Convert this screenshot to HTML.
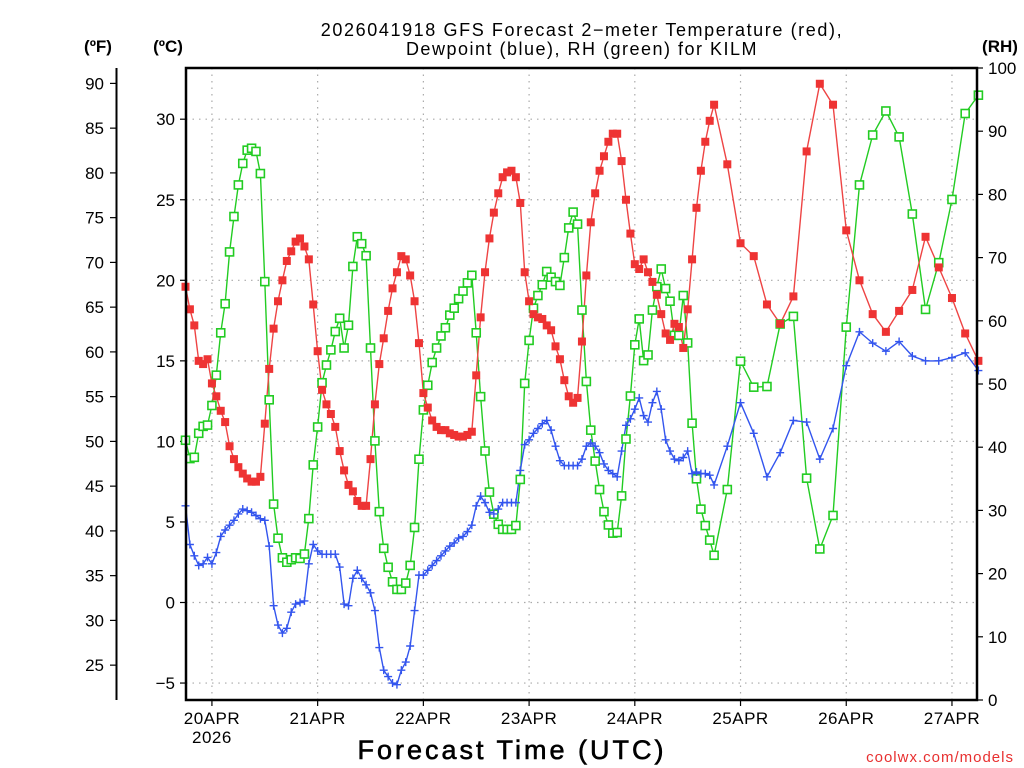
<!DOCTYPE html>
<html><head><meta charset="utf-8">
<style>
html,body{margin:0;padding:0;background:#fff;}
svg{display:block;font-family:"Liberation Sans","DejaVu Sans",sans-serif;}
</style></head>
<body>
<svg id="chart" width="1024" height="768" viewBox="0 0 1024 768" xmlns="http://www.w3.org/2000/svg">
<rect x="0" y="0" width="1024" height="768" fill="#fff"/>
<text x="582" y="36" font-size="18" text-anchor="middle" fill="#000" letter-spacing="1.6">2026041918 GFS Forecast 2−meter Temperature (red),</text>
<text x="582" y="55" font-size="18" text-anchor="middle" fill="#000" letter-spacing="1.5">Dewpoint (blue), RH (green) for KILM</text>
<text x="98" y="52" font-size="17" font-weight="bold" text-anchor="middle">(ºF)</text>
<text x="168" y="52" font-size="17" font-weight="bold" text-anchor="middle">(ºC)</text>
<text x="1000" y="52" font-size="17" font-weight="bold" text-anchor="middle">(RH)</text>
<text x="512" y="759" font-size="27" text-anchor="middle" letter-spacing="3" stroke="#000" stroke-width="0.6">Forecast Time (UTC)</text>
<text x="1014" y="762" font-size="15" text-anchor="end" fill="#e83030" letter-spacing="1">coolwx.com/models</text>
<g id="grid"></g>
<g id="axes"></g>
<g id="series"></g>
<rect x="186" y="68" width="791" height="632" fill="none" stroke="#000" stroke-width="2.5"/>
</svg>
<script>
// hourly h0..h120 (from 19APR 18Z), then 3-hourly h123..h180
const tempHourly=[19.6,18.2,17.2,15.0,14.8,15.1,13.6,12.8,11.9,11.2,9.7,8.9,8.4,8.0,7.7,7.5,7.5,7.8,11.1,14.5,17.0,18.7,20.0,21.2,21.8,22.4,22.6,22.1,21.3,18.5,15.6,13.2,12.3,11.7,10.9,9.4,8.2,7.3,6.9,6.3,6.0,6.0,8.9,12.3,14.8,16.4,18.1,19.5,20.5,21.5,21.3,20.3,18.7,16.1,13.0,12.1,11.3,10.9,10.7,10.7,10.5,10.4,10.3,10.3,10.4,10.6,14.1,17.7,20.5,22.6,24.2,25.4,26.4,26.7,26.8,26.4,24.8,20.5,18.7,17.9,17.7,17.6,17.2,16.9,15.9,15.1,13.8,12.8,12.4,12.7,16.2,20.3,23.6,25.4,26.8,27.7,28.6,29.1,29.1,27.4,25.0,22.9,21.0,20.7,21.3,20.5,19.9,19.1,17.9,16.7,16.3,17.3,17.1,15.8,18.2,21.3,24.5,26.8,28.6,29.9,30.9];
const temp3h=[27.2,22.3,21.5,18.5,17.3,19.0,28.0,32.2,30.9,23.1,20.0,17.9,16.8,18.1,19.4,22.7,20.8,18.9,16.7,15.0];
const dewHourly=[6.0,3.6,2.9,2.3,2.4,2.8,2.4,3.1,4.1,4.5,4.8,5.1,5.5,5.8,5.7,5.6,5.4,5.2,5.1,3.5,-0.2,-1.4,-1.9,-1.6,-0.6,-0.1,0.0,0.1,2.4,3.6,3.2,3.0,3.0,3.0,3.0,2.2,-0.1,-0.2,1.5,2.0,1.5,1.1,0.6,-0.5,-2.8,-4.2,-4.6,-5.0,-5.1,-4.2,-3.7,-2.7,-0.5,1.7,1.7,2.0,2.3,2.6,2.9,3.2,3.5,3.7,4.0,4.1,4.4,4.8,6.0,6.6,6.2,5.6,5.5,5.8,6.2,6.2,6.2,6.2,8.2,9.8,10.1,10.5,10.8,11.1,11.3,10.7,9.7,8.8,8.5,8.5,8.5,8.5,8.9,9.7,9.9,9.7,9.3,8.6,8.2,8.0,7.8,9.4,11.0,11.4,12.0,12.7,11.6,11.2,12.4,13.1,12.0,10.1,9.4,8.9,8.8,9.0,9.4,8.0,8.1,8.0,8.0,7.9,7.3];
const dew3h=[9.7,12.4,10.5,7.8,9.3,11.3,11.2,8.9,10.8,14.7,16.8,16.1,15.6,16.2,15.3,15.0,15.0,15.2,15.5,14.4];
const rhHourly=[41.1,38.2,38.4,42.2,43.3,43.5,46.6,51.4,58.1,62.7,70.9,76.5,81.5,84.9,87.0,87.3,86.8,83.3,66.2,47.5,31.0,25.6,22.5,21.8,22.2,22.5,22.4,23.1,28.7,37.2,43.2,50.2,53.0,55.4,58.3,60.4,55.7,59.3,68.6,73.3,72.2,70.3,55.7,41.0,29.8,24.0,21.0,18.7,17.5,17.5,18.5,21.3,27.3,38.1,45.9,49.8,53.4,55.7,57.6,58.9,60.9,62.0,63.5,64.7,66.0,67.2,58.1,48.0,39.4,32.9,29.4,27.8,27.0,27.0,27.0,27.6,34.9,50.1,56.9,62.0,64.0,65.7,67.8,66.9,66.2,65.6,70.0,74.7,77.2,75.3,61.7,50.4,42.7,37.8,33.3,29.8,27.7,26.4,26.5,32.3,41.3,48.1,56.2,60.3,53.7,54.6,61.7,65.4,68.2,65.1,63.1,57.7,57.7,64.0,56.5,43.8,35.0,30.2,27.6,25.3,22.9];
const rh3h=[33.3,53.6,49.5,49.6,59.5,60.7,35.1,23.9,29.2,59.0,81.5,89.4,93.2,89.1,76.9,61.8,69.2,79.2,92.8,95.7];
const dayLabels=["20APR","21APR","22APR","23APR","24APR","25APR","26APR","27APR"];
const celsiusTicks=[30,25,20,15,10,5,0,-5];
const fahrenheitTicks=[90,85,80,75,70,65,60,55,50,45,40,35,30,25];
const rhTicks=[100,90,80,70,60,50,40,30,20,10,0];

const NS="http://www.w3.org/2000/svg";
const X0=185.5, PXH=4.405;
const xh=h=>X0+h*PXH;
const yC=c=>602.5-16.11*c;
const yF=f=>yC((f-32)*5/9);
const yRH=r=>700-6.32*r;
function mk(tag,attrs,parent){const e=document.createElementNS(NS,tag);for(const k in attrs)e.setAttribute(k,attrs[k]);parent.appendChild(e);return e;}
const grid=document.getElementById('grid'),axes=document.getElementById('axes'),series=document.getElementById('series');

function series2pts(hourly,three){const p=[];hourly.forEach((v,i)=>p.push([i,v]));three.forEach((v,i)=>p.push([123+3*i,v]));return p;}

dayLabels.forEach((d,i)=>{
  const x=xh(6+24*i);
  const l=mk('line',{x1:x,y1:68,x2:x,y2:700,stroke:'#aaa','stroke-width':1.2,'stroke-dasharray':'1.5,5'},grid);
  
  
  const t=mk('line',{x1:x,y1:700,x2:x,y2:706,stroke:'#000','stroke-width':1.2},axes);
  
  
  const tx=mk('text',{x:x,y:724,'font-size':17,'text-anchor':'middle','letter-spacing':0.5},axes);
  tx.textContent=d;
  
  
  if(i===0){const y2=mk('text',{x:x,y:743,'font-size':17,'text-anchor':'middle','letter-spacing':0.5},axes);y2.textContent='2026';
    
    }
});
celsiusTicks.forEach(c=>{
  const y=yC(c);
  const l=mk('line',{x1:186,y1:y,x2:977,y2:y,stroke:'#aaa','stroke-width':1.2,'stroke-dasharray':'1.5,5'},grid);
  
  
  const t=mk('line',{x1:180,y1:y,x2:186,y2:y,stroke:'#000','stroke-width':1.2},axes);
  
  
  const tx=mk('text',{x:175,y:y+6,'font-size':17,'text-anchor':'end'},axes);
  tx.textContent=c<0?('−'+Math.abs(c)):String(c);
  
  
});
const fl=mk('line',{x1:116.5,y1:68,x2:116.5,y2:700,stroke:'#000','stroke-width':2},axes);


fahrenheitTicks.forEach(f=>{
  const y=yF(f);
  const t=mk('line',{x1:110,y1:y,x2:116,y2:y,stroke:'#000','stroke-width':1.2},axes);
  
  
  const tx=mk('text',{x:104,y:y+6,'font-size':17,'text-anchor':'end'},axes);
  tx.textContent=String(f);
  
  
});
rhTicks.forEach(r=>{
  const y=yRH(r);
  const t=mk('line',{x1:977,y1:y,x2:983,y2:y,stroke:'#000','stroke-width':1.2},axes);
  
  
  const tx=mk('text',{x:988,y:y+6,'font-size':17,'text-anchor':'start'},axes);
  tx.textContent=String(r);
  
  
});

function drawLine(pts,yfn,color,name){
  const d=pts.map((p,i)=>(i?'L':'M')+xh(p[0]).toFixed(1)+','+yfn(p[1]).toFixed(1)).join('');
  const pl=mk('path',{d:d,fill:'none',stroke:color,'stroke-width':1.4},series);
  
  
}
const tPts=series2pts(tempHourly,temp3h),dPts=series2pts(dewHourly,dew3h),rPts=series2pts(rhHourly,rh3h);
drawLine(rPts,yRH,'#22cc22','rh');
drawLine(tPts,yC,'#ee4444','temperature');
drawLine(dPts,yC,'#3355ee','dewpoint');
rPts.forEach(p=>{const m=mk('rect',{x:xh(p[0])-4,y:yRH(p[1])-4,width:8,height:8,fill:'#fff',stroke:'#22cc22','stroke-width':1.6},series);
  
  });
tPts.forEach(p=>{const m=mk('rect',{x:xh(p[0])-4,y:yC(p[1])-4,width:8,height:8,fill:'#ee3333'},series);
  
  });
dPts.forEach(p=>{const x=xh(p[0]),y=yC(p[1]);const m=mk('path',{d:`M${x-4},${y}H${x+4}M${x},${y-4}V${y+4}`,stroke:'#3355ee','stroke-width':1.4},series);
  
  });
</script>
</body></html>
